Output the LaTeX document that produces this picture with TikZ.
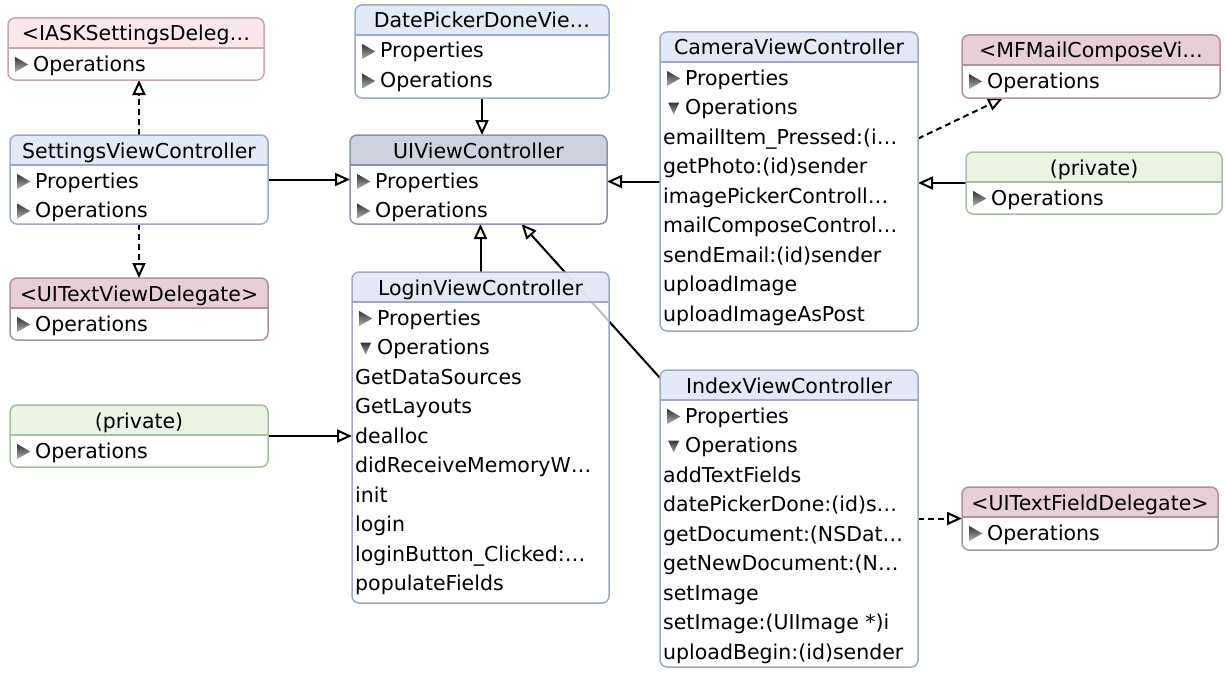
\documentclass[tikz,border=0pt]{standalone}
\usepackage{fontspec}
\setmainfont{DejaVu Sans}
\usetikzlibrary{arrows.meta,backgrounds}

\definecolor{clsfill}{HTML}{DDE7F5}
\definecolor{clsline}{HTML}{9DAAC1}
\definecolor{rootfill}{HTML}{C5CBDA}
\definecolor{rootline}{HTML}{8C93A5}
\definecolor{protolfill}{HTML}{FBE2E8}
\definecolor{protolline}{HTML}{C8A6AE}
\definecolor{protofill}{HTML}{E4C7CE}
\definecolor{protoline}{HTML}{B0909A}
\definecolor{extfill}{HTML}{E7F2E0}
\definecolor{extline}{HTML}{A9BEA0}

% small disclosure triangles in front of a row
\newcommand{\rowshut}{\hspace{4pt}\tikz[baseline=0pt]\shade[top color=black!80,bottom color=black!30] (0pt,-1pt) -- (0pt,14pt) -- (13pt,6.5pt) -- cycle;\hspace{5pt}}
\newcommand{\rowopen}{\hspace{5pt}\tikz[baseline=0pt]\shade[top color=black!80,bottom color=black!35] (0pt,12pt) -- (11pt,12pt) -- (5.5pt,0pt) -- cycle;\hspace{6pt}}

% #1 name, #2 kind, #3 x, #4 y, #5 width, #6 height, #7 title
\newcommand{\umlbox}[7]{%
  \node[box, minimum width=#5pt, minimum height=#6pt] (#1) at (#3,#4) {};
  \begin{scope}
    \clip[rounded corners=7pt] (#1.north west) rectangle (#1.south east);
    \fill[#2fill, fill opacity=.85] (#1.north west) rectangle ([yshift=-30pt]#1.north east);
    \draw[#2line, line width=2.5pt] ([yshift=-30pt]#1.north west) -- ([yshift=-30pt]#1.north east);
  \end{scope}
  \draw[#2line, line width=1.5pt, rounded corners=7pt] (#1.north west) rectangle (#1.south east);
  \node[title] (#1-t) at ([yshift=-23pt]#1.north) {#7};
}
% #1 name, #2 rows
\newcommand{\umlrows}[2]{%
  \foreach \entry [count=\i] in {#2}
    \node[row] (#1-\i) at ([xshift=3pt, yshift={-23.5pt-\i*29.5pt}]#1.north west) {\entry};
}

\begin{document}
\begin{tikzpicture}[x=1pt, y=-1pt,
    box/.style={rectangle, rounded corners=7pt, fill=white, fill opacity=.75,
      anchor=north west, inner sep=0pt, outer sep=0pt},
    title/.style={anchor=base, inner sep=0pt, font=\fontsize{20.5}{24}\selectfont},
    row/.style={anchor=base west, inner sep=0pt, font=\fontsize{20.5}{24}\selectfont},
    inherit/.style={draw=black, line width=2pt,
      -{Triangle[open, length=15pt, width=13pt, fill=white]}},
    realize/.style={inherit, dash pattern=on 6pt off 4pt}]
  \useasboundingbox (0,0) rectangle (1225,677);

  \umlbox{iask}{protol}{8}{18}{256}{62}{<IASKSettingsDeleg…}
  \umlrows{iask}{\rowshut Operations}

  \umlbox{datepicker}{cls}{355}{5}{254}{93}{DatePickerDoneVie…}
  \umlrows{datepicker}{\rowshut Properties, \rowshut Operations}

  \umlbox{uivc}{root}{350}{135}{257}{89}{UIViewController}
  \umlrows{uivc}{\rowshut Properties, \rowshut Operations}

  \umlbox{settings}{cls}{10}{135}{258}{89}{SettingsViewController}
  \umlrows{settings}{\rowshut Properties, \rowshut Operations}

  \umlbox{textview}{proto}{10}{278}{258}{62}{<UITextViewDelegate>}
  \umlrows{textview}{\rowshut Operations}

  \umlbox{camera}{cls}{660}{32}{258}{299}{CameraViewController}
  \umlrows{camera}{\rowshut Properties, \rowopen Operations,
    emailItem\_Pressed:(i…, getPhoto:(id)sender, imagePickerControll…,
    mailComposeControl…, sendEmail:(id)sender, uploadImage, uploadImageAsPost}

  \umlbox{mfmail}{proto}{962}{35}{258}{63}{<MFMailComposeVi…}
  \umlrows{mfmail}{\rowshut Operations}

  \umlbox{extcam}{ext}{966}{152}{256}{62}{(private)}
  \umlrows{extcam}{\rowshut Operations}

  \umlbox{login}{cls}{352}{272}{257}{331}{LoginViewController}
  \umlrows{login}{\rowshut Properties, \rowopen Operations, GetDataSources,
    GetLayouts, dealloc, didReceiveMemoryW…, init, login,
    loginButton\_Clicked:…, populateFields}

  \umlbox{extlogin}{ext}{10}{405}{258}{62}{(private)}
  \umlrows{extlogin}{\rowshut Operations}

  \umlbox{index}{cls}{660}{370}{258}{297}{IndexViewController}
  \umlrows{index}{\rowshut Properties, \rowopen Operations, addTextFields,
    datePickerDone:(id)s…, getDocument:(NSDat…, getNewDocument:(N…,
    setImage, setImage:(UIImage *)i, uploadBegin:(id)sender}

  \umlbox{tfdel}{proto}{962}{487}{256}{63}{<UITextFieldDelegate>}
  \umlrows{tfdel}{\rowshut Operations}

  \begin{pgfonlayer}{background}
    \draw[realize] (settings.north) -- (settings.north |- iask.south);
    \draw[realize] (settings.south) -- (settings.south |- textview.north);
    \draw[inherit] (settings.east) -- (settings.east -| uivc.west);
    \draw[inherit] (datepicker.south) -- (datepicker.south |- uivc.north);
    \draw[inherit] (login.north) -- (login.north |- uivc.south);
    \draw[inherit] ([yshift=-8pt]index.north west) -- ([xshift=43pt]uivc.south);
    \draw[inherit] (camera.west) -- (camera.west -| uivc.east);
    \draw[inherit] (extcam.west) -- (extcam.west -| camera.east);
    \draw[realize] (camera.east |- camera-3) -- ([xshift=-88pt]mfmail.south);
    \draw[inherit] (extlogin.east) -- (extlogin.east -| login.west);
    \draw[realize] (index.east |- tfdel.west) -- (tfdel.west);
  \end{pgfonlayer}
\end{tikzpicture}
\end{document}
